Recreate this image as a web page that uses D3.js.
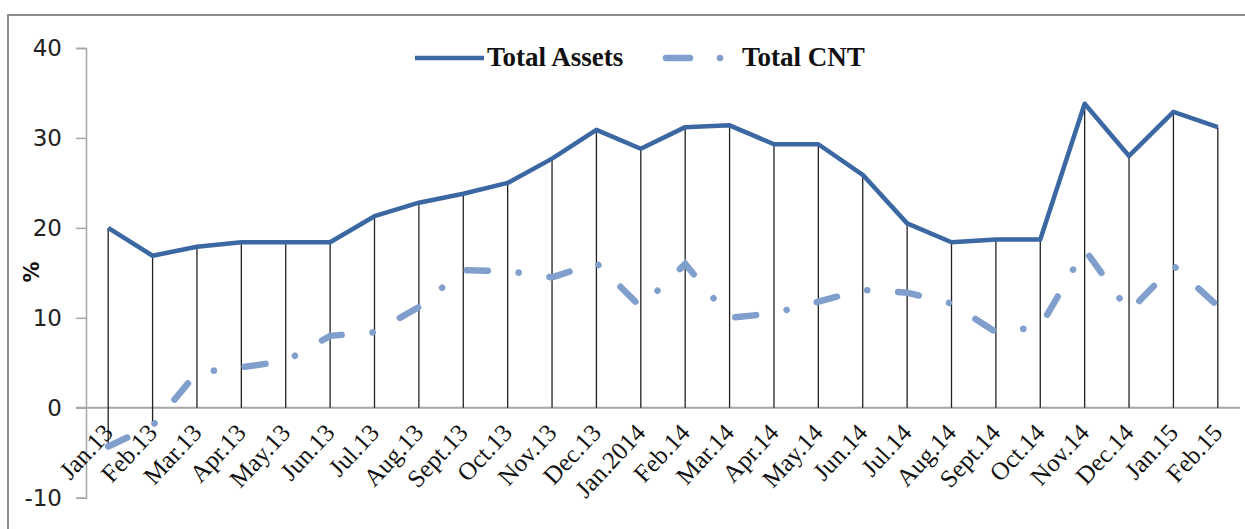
<!DOCTYPE html>
<html>
<head>
<meta charset="utf-8">
<script src="https://cdn.jsdelivr.net/npm/d3@7"></script>
<style>
  html, body { margin: 0; padding: 0; background: #fff; }
  svg { display: block; }
</style>
</head>
<body>
<svg id="chart" width="1245" height="529"></svg>
<script>
'use strict';

// category labels along the x axis
const months = ['Jan.13', 'Feb.13', 'Mar.13', 'Apr.13', 'May.13', 'Jun.13', 'Jul.13', 'Aug.13',
    'Sept.13', 'Oct.13', 'Nov.13', 'Dec.13', 'Jan.2014', 'Feb.14', 'Mar.14', 'Apr.14', 'May.14',
    'Jun.14', 'Jul.14', 'Aug.14', 'Sept.14', 'Oct.14', 'Nov.14', 'Dec.14', 'Jan.15', 'Feb.15'];

// series values (%)
const totalAssets = [20.0, 16.9, 17.9, 18.4, 18.4, 18.4, 21.3, 22.8, 23.8, 25.0, 27.7, 30.9, 28.8,
    31.2, 31.4, 29.3, 29.3, 25.9, 20.5, 18.4, 18.7, 18.7, 33.8, 28.0, 32.9, 31.2];
const totalCNT = [-4.3, -2.0, 3.9, 4.5, 5.2, 8.0, 8.4, 11.2, 15.3, 15.2, 14.5, 16.1, 11.2,
    16.0, 10.0, 10.5, 11.8, 13.1, 12.8, 11.6, 8.4, 9.0, 17.6, 10.7, 15.8, 11.3];

const yTicks = [-10, 0, 10, 20, 30, 40];

const svg = d3.select('#chart');
const plot = { left: 86, right: 1240, top: 48, bottom: 497.7 };

const x = d3.scaleBand()
    .domain(months)
    .range([plot.left, plot.right]);

const y = d3.scaleLinear()
    .domain([-10, 40])
    .range([plot.bottom, plot.top]);

const cx = d => x(d) + x.bandwidth() / 2;

// outer frame (only top and left visible)
svg.append('path')
    .attr('d', `M8,529 L8,15 L1245,15`)
    .attr('fill', 'none')
    .attr('stroke', '#8c8c8c')
    .attr('stroke-width', 2);

// y axis
const yAxis = svg.append('g')
    .attr('transform', `translate(${plot.left},0)`)
    .call(d3.axisLeft(y).tickValues(yTicks).tickFormat(d => String(d)).tickSize(10).tickPadding(14));
yAxis.select('.domain').attr('stroke', '#a6a6a6').attr('stroke-width', 1.5);
yAxis.selectAll('.tick line').attr('stroke', '#a6a6a6').attr('stroke-width', 1.5);
yAxis.selectAll('.tick text')
    .attr('fill', '#222')
    .style('font-family', '"DejaVu Sans", sans-serif')
    .style('font-size', '23px');

// x axis at zero
svg.append('line')
    .attr('x1', plot.left - 10)
    .attr('x2', plot.right)
    .attr('y1', y(0))
    .attr('y2', y(0))
    .attr('stroke', '#a6a6a6')
    .attr('stroke-width', 2);

// drop lines
svg.append('g')
    .selectAll('line')
    .data(months)
    .join('line')
    .attr('x1', d => cx(d))
    .attr('x2', d => cx(d))
    .attr('y1', (d, i) => y(Math.max(totalAssets[i], totalCNT[i], 0)))
    .attr('y2', (d, i) => y(Math.min(totalAssets[i], totalCNT[i], 0)))
    .attr('stroke', '#222')
    .attr('stroke-width', 1.3);

// x labels
svg.append('g')
    .selectAll('text')
    .data(months)
    .join('text')
    .attr('transform', d => `translate(${cx(d) + 6},${y(0) + 26}) rotate(-47)`)
    .attr('text-anchor', 'end')
    .attr('fill', '#111')
    .style('font-family', '"Liberation Serif", "Times New Roman", serif')
    .style('font-size', '25px')
    .text(d => d);

// y axis title
svg.append('text')
    .attr('transform', 'translate(39,272) rotate(-90)')
    .attr('text-anchor', 'middle')
    .attr('fill', '#111')
    .style('font-family', '"DejaVu Sans", sans-serif')
    .style('font-size', '21px')
    .style('font-weight', 'bold')
    .text('%');

const line = d3.line()
    .x((d, i) => cx(months[i]))
    .y(d => y(d));

const cntDash = '21 31 0.1 31';

// Total CNT
svg.append('path')
    .datum(totalCNT)
    .attr('d', line)
    .attr('fill', 'none')
    .attr('stroke', '#809fcc')
    .attr('stroke-width', 6.5)
    .attr('stroke-linecap', 'round')
    .attr('stroke-dasharray', cntDash);

// Total Assets
svg.append('path')
    .datum(totalAssets)
    .attr('d', line)
    .attr('fill', 'none')
    .attr('stroke', '#3b67a3')
    .attr('stroke-width', 4.5)
    .attr('stroke-linejoin', 'round');

// legend
const legend = svg.append('g').attr('class', 'legend');
legend.append('line')
    .attr('x1', 415).attr('x2', 484).attr('y1', 58).attr('y2', 58)
    .attr('stroke', '#3b67a3').attr('stroke-width', 4.5);
legend.append('text')
    .attr('x', 487).attr('y', 66)
    .style('font-family', '"Liberation Serif", "Times New Roman", serif')
    .style('font-size', '27px')
    .style('font-weight', 'bold')
    .attr('fill', '#111')
    .text('Total Assets');
legend.append('line')
    .attr('x1', 666).attr('x2', 690).attr('y1', 58).attr('y2', 58)
    .attr('stroke', '#809fcc').attr('stroke-width', 6.5).attr('stroke-linecap', 'round');
legend.append('circle')
    .attr('cx', 720).attr('cy', 58).attr('r', 3.3)
    .attr('fill', '#809fcc');
legend.append('text')
    .attr('x', 742).attr('y', 66)
    .style('font-family', '"Liberation Serif", "Times New Roman", serif')
    .style('font-size', '27px')
    .style('font-weight', 'bold')
    .attr('fill', '#111')
    .text('Total CNT');
</script>
</body>
</html>
